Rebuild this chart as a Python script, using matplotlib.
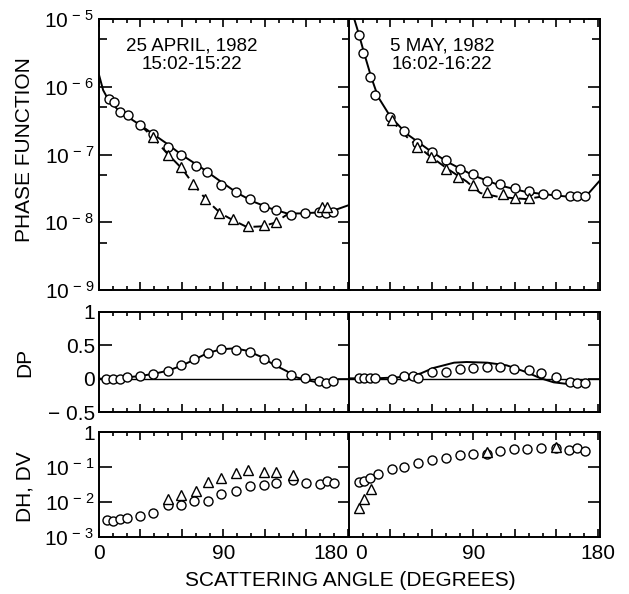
import numpy as np
import matplotlib
matplotlib.use('Agg')
import matplotlib.pyplot as plt
import matplotlib.transforms as mtransforms
from matplotlib.ticker import FixedLocator, NullFormatter, NullLocator

matplotlib.rcParams['font.family'] = ['Liberation Sans', 'DejaVu Sans']
matplotlib.rcParams['mathtext.fontset'] = 'custom'
matplotlib.rcParams['mathtext.rm'] = 'Liberation Sans'
matplotlib.rcParams['mathtext.it'] = 'Liberation Sans'
matplotlib.rcParams['mathtext.bf'] = 'Liberation Sans'
matplotlib.rcParams['axes.unicode_minus'] = True

# ---------------- data ----------------
# 25 April 1982 - phase function
apr_pf_ang = [7, 11, 15, 21, 30, 39, 50, 59, 70, 78, 88, 99, 109, 119, 128, 139, 149, 159, 164, 169]
apr_pf_circ = [6.5e-7, 6.0e-7, 4.2e-7, 3.8e-7, 2.7e-7, 2.0e-7, 1.3e-7, 1.0e-7, 6.7e-8, 5.5e-8,
               3.6e-8, 2.8e-8, 2.2e-8, 1.7e-8, 1.5e-8, 1.3e-8, 1.35e-8, 1.4e-8, 1.35e-8, 1.4e-8]
apr_pf_tri_ang = [39, 50, 59, 68, 77, 87, 97, 108, 119, 128, 161, 165]
apr_pf_tri = [1.8e-7, 9.8e-8, 6.6e-8, 3.7e-8, 2.2e-8, 1.35e-8, 1.1e-8, 8.7e-9, 9.1e-9, 1.0e-8, 1.7e-8, 1.7e-8]
apr_fit_ang = [0, 3, 7, 15, 30, 49, 60, 73, 88, 100, 112, 124, 136, 146, 160, 170, 181]
apr_fit = [1.5e-6, 8.9e-7, 6.3e-7, 4.3e-7, 2.7e-7, 1.45e-7, 9.8e-8, 6.6e-8, 4.0e-8, 2.7e-8,
           2.0e-8, 1.6e-8, 1.35e-8, 1.35e-8, 1.4e-8, 1.5e-8, 1.8e-8]
apr_dash_ang = [30, 39, 49, 60, 68, 78, 88, 97, 107, 118, 127, 136]
apr_dash = [2.7e-7, 1.8e-7, 1.05e-7, 6.2e-8, 3.7e-8, 2.1e-8, 1.35e-8, 1.07e-8, 8.5e-9, 8.7e-9, 9.8e-9, 1.3e-8]

# 5 May 1982 - phase function
may_pf_ang = [7, 10, 15, 19, 30, 40, 49, 60, 70, 80, 90, 100, 109, 120, 130, 140, 150, 160, 165, 171]
may_pf_circ = [5.8e-6, 3.2e-6, 1.4e-6, 7.6e-7, 3.6e-7, 2.2e-7, 1.5e-7, 1.1e-7, 8.3e-8, 6.2e-8,
               5.2e-8, 4.1e-8, 3.7e-8, 3.2e-8, 2.9e-8, 2.6e-8, 2.6e-8, 2.45e-8, 2.45e-8, 2.45e-8]
may_pf_tri_ang = [31, 49, 59, 70, 79, 90, 100, 111, 120, 130]
may_pf_tri = [3.2e-7, 1.3e-7, 9.3e-8, 6.2e-8, 4.7e-8, 3.6e-8, 2.8e-8, 2.6e-8, 2.3e-8, 2.3e-8]
may_fit_ang = [2, 4, 7, 11, 16, 21, 30, 42, 57, 71, 90, 109, 128, 148, 162, 172, 183]
may_fit = [1.4e-5, 9.7e-6, 6.1e-6, 3.1e-6, 1.4e-6, 7.1e-7, 3.6e-7, 2.0e-7, 1.2e-7, 7.8e-8,
           4.9e-8, 3.5e-8, 2.8e-8, 2.5e-8, 2.35e-8, 2.5e-8, 4.5e-8]
may_dash_ang = [30, 42, 57, 71, 85, 95, 109, 128, 140]
may_dash = [3.3e-7, 1.8e-7, 1.0e-7, 6.2e-8, 4.0e-8, 2.7e-8, 2.35e-8, 2.2e-8, 2.4e-8]

# DP
apr_dp_ang = [5, 10, 15, 20, 30, 39, 50, 59, 69, 79, 88, 99, 109, 119, 128, 139, 149, 159, 164, 169]
apr_dp = [-0.005, 0.0, 0.0, 0.02, 0.04, 0.07, 0.12, 0.2, 0.29, 0.39, 0.44, 0.43, 0.40, 0.30,
          0.23, 0.06, 0.005, -0.04, -0.07, -0.04]
apr_dp_fit_ang = [0, 10, 20, 30, 40, 50, 59, 69, 78, 88, 98, 107, 117, 126, 136, 141, 150, 160, 166, 172]
apr_dp_fit = [0.0, 0.0, 0.02, 0.04, 0.075, 0.12, 0.19, 0.285, 0.38, 0.44, 0.455, 0.42, 0.33,
              0.215, 0.11, 0.03, -0.02, -0.065, -0.075, -0.05]
may_dp_ang = [7, 11, 15, 19, 31, 40, 46, 50, 60, 70, 80, 90, 100, 109, 119, 130, 139, 150, 160, 165, 171]
may_dp = [0.01, 0.01, 0.01, 0.01, 0.0, 0.04, 0.04, 0.01, 0.1, 0.1, 0.14, 0.16, 0.18, 0.18, 0.14,
          0.13, 0.09, 0.03, -0.05, -0.07, -0.07]
may_dp_fit_ang = [0, 20, 35, 45, 52, 61, 76, 85, 100, 114, 128, 138, 148, 157, 172]
may_dp_fit = [0.005, 0.005, 0.02, 0.04, 0.08, 0.16, 0.24, 0.25, 0.24, 0.2, 0.1, 0.01, -0.055, -0.077, -0.08]

# DH (circles) and DV (triangles)
apr_dh_ang = [6, 10, 15, 20, 30, 39, 50, 59, 69, 79, 88, 99, 109, 119, 128, 140, 150, 160, 165, 170]
apr_dh = [3.0e-3, 2.9e-3, 3.2e-3, 3.5e-3, 3.9e-3, 4.9e-3, 8.0e-3, 8.4e-3, 1.05e-2, 1.1e-2,
          1.66e-2, 2.0e-2, 2.8e-2, 3.0e-2, 3.5e-2, 4.2e-2, 3.6e-2, 3.3e-2, 3.9e-2, 3.5e-2]
apr_dv_ang = [50, 59, 70, 79, 88, 99, 108, 119, 128, 140]
apr_dv = [1.25e-2, 1.55e-2, 2.1e-2, 3.7e-2, 4.9e-2, 6.7e-2, 8.0e-2, 7.2e-2, 7.2e-2, 5.8e-2]
may_dh_ang = [7, 11, 15, 21, 31, 40, 50, 60, 70, 80, 90, 100, 109, 119, 129, 139, 150, 159, 165, 171]
may_dh = [3.8e-2, 4.1e-2, 4.8e-2, 6.3e-2, 8.6e-2, 0.10, 0.13, 0.16, 0.18, 0.22, 0.24, 0.24,
          0.29, 0.32, 0.32, 0.34, 0.34, 0.30, 0.34, 0.29]
may_dv_ang = [7, 11, 16, 100, 150]
may_dv = [6.8e-3, 1.2e-2, 2.3e-2, 0.27, 0.37]

# ---------------- layout ----------------
fig = plt.figure(figsize=(6.29, 5.94), dpi=100)
L1, L2, W = 99 / 629, 349 / 629, 251 / 629
rows = [(1 - 290 / 594, 271 / 594), (1 - 412 / 594, 100 / 594), (1 - 537 / 594, 105 / 594)]
axes = [[fig.add_axes([L1, b, W, h]), fig.add_axes([L2, b, W, h])] for b, h in rows]

mk = dict(ms=6.5, mfc='white', mec='black', mew=1.0, ls='none', zorder=3)
lw = 1.4


def dec(n):
    # tick label written like the original: 10 with a spaced superscript minus
    return r'$10^{\,-\,%d}$' % n


for r in range(3):
    for c in range(2):
        ax = axes[r][c]
        ax.set_xlim(0, 181.5)
        for s in ax.spines.values():
            s.set_linewidth(1.4)
        ax.xaxis.set_major_locator(FixedLocator(np.arange(0, 181, 30)))
        ax.xaxis.set_minor_locator(FixedLocator(np.arange(0, 181, 10)))
        ax.tick_params(axis='x', which='both', direction='in', top=True, bottom=True, width=1.2)
        ax.tick_params(axis='x', which='major', length=6)
        ax.tick_params(axis='x', which='minor', length=3)
        ax.tick_params(axis='y', which='both', direction='in', width=1.2,
                       left=(c == 0), right=True, labelleft=(c == 0), labelright=False,
                       labelsize=15, pad=3)
        ax.tick_params(axis='y', which='major', length=9)
        ax.tick_params(axis='y', which='minor', length=6)
        ax.xaxis.set_major_formatter(NullFormatter())

# top row
for c in range(2):
    ax = axes[0][c]
    ax.set_yscale('log')
    ax.set_ylim(1e-9, 1e-5)
    ax.yaxis.set_major_locator(FixedLocator([1e-9, 1e-8, 1e-7, 1e-6, 1e-5]))
    ax.yaxis.set_minor_locator(FixedLocator([5e-9, 5e-8, 5e-7, 5e-6]))
    ax.yaxis.set_minor_formatter(NullFormatter())
axes[0][0].set_yticklabels([dec(9), dec(8), dec(7), dec(6), dec(5)])

ax = axes[0][0]
ax.plot(apr_fit_ang, apr_fit, 'k-', lw=lw)
ax.plot(apr_dash_ang, apr_dash, 'k--', lw=lw, dashes=(5, 3))
ax.plot(apr_pf_ang, apr_pf_circ, marker='o', **mk)
ax.plot(apr_pf_tri_ang, apr_pf_tri, marker='^', **mk)
ax.text(0.37, 0.93, '25 APRIL, 1982\n15:02-15:22', transform=ax.transAxes,
        ha='center', va='top', fontsize=13.5, linespacing=1.1)

ax = axes[0][1]
ax.plot(may_fit_ang, may_fit, 'k-', lw=lw)
ax.plot(may_dash_ang, may_dash, 'k--', lw=lw, dashes=(5, 3))
ax.plot(may_pf_ang, may_pf_circ, marker='o', **mk)
ax.plot(may_pf_tri_ang, may_pf_tri, marker='^', **mk)
ax.text(0.37, 0.93, '5 MAY, 1982\n16:02-16:22', transform=ax.transAxes,
        ha='center', va='top', fontsize=13.5, linespacing=1.1)

# middle row
for c in range(2):
    ax = axes[1][c]
    ax.set_ylim(-0.5, 1)
    ax.yaxis.set_major_locator(FixedLocator([-0.5, 0, 0.5, 1]))
    ax.yaxis.set_minor_locator(NullLocator())
    ax.plot([0, 181.5], [0, 0], 'k-', lw=1.0)
axes[1][0].set_yticklabels(['\u2212 0.5', '0', '0.5', '1'])

ax = axes[1][0]
ax.plot(apr_dp_fit_ang, apr_dp_fit, 'k-', lw=lw)
ax.plot(apr_dp_ang, apr_dp, marker='o', **mk)
ax = axes[1][1]
ax.plot(may_dp_fit_ang, may_dp_fit, 'k-', lw=lw)
ax.plot(may_dp_ang, may_dp, marker='o', **mk)

# bottom row
for c in range(2):
    ax = axes[2][c]
    ax.set_yscale('log')
    ax.set_ylim(1e-3, 1)
    ax.yaxis.set_major_locator(FixedLocator([1e-3, 1e-2, 1e-1, 1]))
    ax.yaxis.set_minor_locator(NullLocator())
axes[2][0].set_yticklabels([dec(3), dec(2), dec(1), '1'])

ax = axes[2][0]
ax.plot(apr_dh_ang, apr_dh, marker='o', **mk)
ax.plot(apr_dv_ang, apr_dv, marker='^', **mk)
ax = axes[2][1]
ax.plot(may_dh_ang, may_dh, marker='o', **mk)
ax.plot(may_dv_ang, may_dv, marker='^', **mk)

# x tick labels on bottom row
for c in range(2):
    ax = axes[2][c]
    ax.set_xticks([0, 30, 60, 90, 120, 150, 180])
    ax.set_xticklabels(['0', '', '', '90', '', '', '180'], fontsize=15)
    ax.tick_params(axis='x', which='major', pad=5)
lbl = axes[2][0].get_xticklabels()[-1]
lbl.set_ha('right')
lbl = axes[2][1].get_xticklabels()[0]
lbl.set_ha('left')
lbl.set_transform(lbl.get_transform() + mtransforms.ScaledTranslation(0.06, 0, fig.dpi_scale_trans))

# axis titles
fig.text(25 / 629, 1 - 150 / 594, 'PHASE FUNCTION', rotation=90, ha='center', va='center', fontsize=15)
fig.text(25 / 629, 1 - 362 / 594, 'DP', rotation=90, ha='center', va='center', fontsize=15)
fig.text(25 / 629, 1 - 487 / 594, 'DH, DV', rotation=90, ha='center', va='center', fontsize=15)
fig.text(350 / 629, 1 - 580 / 594, 'SCATTERING ANGLE (DEGREES)', ha='center', va='center', fontsize=15)

fig.savefig('out.png', dpi=100)
